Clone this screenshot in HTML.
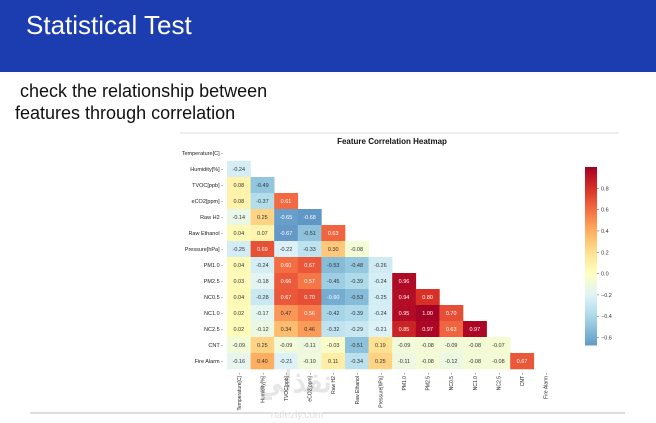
<!DOCTYPE html>
<html><head><meta charset="utf-8"><style>
html,body{margin:0;padding:0;background:#fff;width:656px;height:423px;overflow:hidden;font-family:"Liberation Sans",sans-serif}
#hdr{position:absolute;left:0;top:0;width:656px;height:72px;background:#1c3db0}
#ttl{position:absolute;left:26px;top:10px;color:#fff;font-size:26px}
.bt{position:absolute;color:#111;font-size:18px;white-space:nowrap}
</style></head><body>
<div id="hdr"><div id="ttl">Statistical Test</div></div>
<div class="bt" style="left:20px;top:81px">check the relationship between</div>
<div class="bt" style="left:15px;top:103px">features through correlation</div>
<svg id="chart" width="656" height="423" style="position:absolute;left:0;top:0">
<line x1="180" y1="133" x2="619" y2="133" stroke="#ddd" stroke-width="1"/>
<line x1="30" y1="413" x2="625" y2="413" stroke="#bbb" stroke-width="1"/>
<text x="392" y="144" font-size="8" font-weight="bold" text-anchor="middle" fill="#111">Feature Correlation Heatmap</text>
<text x="295" y="392" font-size="30" font-weight="bold" text-anchor="middle" fill="#e6e6e6">نفذلي</text>
<text x="297" y="418" font-size="10" text-anchor="middle" fill="#e0e0e0">nafezly.com</text>
</svg>
<script>
const features=["Temperature[C]","Humidity[%]","TVOC[ppb]","eCO2[ppm]","Raw H2","Raw Ethanol","Pressure[hPa]","PM1.0","PM2.5","NC0.5","NC1.0","NC2.5","CNT","Fire Alarm"];
const corrRows=[
[],
[-0.24],
[0.08,-0.49],
[0.08,-0.37,0.61],
[-0.14,0.25,-0.65,-0.68],
[0.04,0.07,-0.67,-0.51,0.63],
[-0.25,0.69,-0.22,-0.33,0.30,-0.08],
[0.04,-0.24,0.60,0.67,-0.53,-0.48,-0.26],
[0.03,-0.18,0.66,0.57,-0.45,-0.39,-0.24,0.96],
[0.04,-0.28,0.67,0.70,-0.60,-0.53,-0.25,0.94,0.80],
[0.02,-0.17,0.47,0.56,-0.42,-0.39,-0.24,0.95,1.00,0.70],
[0.02,-0.12,0.34,0.46,-0.32,-0.29,-0.21,0.85,0.97,0.63,0.97],
[-0.09,0.25,-0.09,-0.11,-0.03,-0.51,0.19,-0.09,-0.08,-0.09,-0.08,-0.07],
[-0.16,0.40,-0.21,-0.10,0.11,-0.34,0.25,-0.11,-0.08,-0.12,-0.08,-0.08,0.67]];
const cbTicks=[0.8,0.6,0.4,0.2,0.0,-0.2,-0.4,-0.6];
const cmin=-1.0,cmax=1.0;
const vmin=-0.67,vmax=1.0;
const NS="http://www.w3.org/2000/svg";
const svg=document.getElementById('chart');
const gx=227,gy=145,cw=23.6,ch=16;
const xS=i=>gx+i*cw, yS=i=>gy+i*ch;
const stops=["#313695","#4575b4","#74add1","#abd9e9","#e0f3f8","#ffffbf","#fee090","#fdae61","#f46d43","#d73027","#a50026"];
function hex(h){return [1,3,5].map(k=>parseInt(h.substr(k,2),16));}
function cmap(v){let t=(v-cmin)/(cmax-cmin);t=Math.max(0,Math.min(1,t));const p=t*10,i=Math.min(9,Math.floor(p)),f=p-i;const a=hex(stops[i]),b=hex(stops[i+1]);const c=a.map((x,k)=>Math.round(x+(b[k]-x)*f));return {s:`rgb(${c})`,l:(0.299*c[0]+0.587*c[1]+0.114*c[2])};}
function mk(tag,attrs){const e=document.createElementNS(NS,tag);for(const k in attrs)e.setAttribute(k,attrs[k]);return e;}
features.forEach((f,i)=>{
  const t=mk('text',{x:gx-4,y:yS(i)+ch/2+2,'font-size':5.5,'text-anchor':'end',fill:'#222'});
  
  
  t.textContent=f+" -";svg.appendChild(t);
  const cx=xS(i)+cw/2,cy=gy+14*ch+4;
  const u=mk('text',{x:cx+2,y:cy,'font-size':5,'text-anchor':'end',fill:'#222',transform:`rotate(-90 ${cx+2} ${cy})`});
  
  
  u.textContent=f+" -";svg.appendChild(u);
});
corrRows.forEach((row,i)=>row.forEach((v,j)=>{
  const c=cmap(v);
  const r=mk('rect',{x:xS(j),y:yS(i),width:cw+0.3,height:ch+0.3,fill:c.s});
  
  
  svg.appendChild(r);
  const t=mk('text',{x:xS(j)+cw/2,y:yS(i)+ch/2+2,'font-size':5.5,'text-anchor':'middle',fill:c.l<170?'#fff':'#333'});
  
  
  t.textContent=v.toFixed(2);svg.appendChild(t);
}));
const cbx=585,cbw=12,cbTop=167,cbBot=345;
const cbY=v=>cbTop+(vmax-v)/(vmax-vmin)*(cbBot-cbTop);
for(let k=0;k<89;k++){
  const y0=cbTop+k*(cbBot-cbTop)/89;
  const v=vmax-(k+0.5)/89*(vmax-vmin);
  const r=mk('rect',{x:cbx,y:y0,width:cbw,height:(cbBot-cbTop)/89+0.5,fill:cmap(v).s});
  
  
  svg.appendChild(r);
}
cbTicks.forEach(v=>{
  const y=cbY(v);
  const l=mk('line',{x1:cbx+cbw,x2:cbx+cbw+2,y1:y,y2:y,stroke:'#444','stroke-width':0.5});
  
  
  svg.appendChild(l);
  const t=mk('text',{x:cbx+cbw+4,y:y+2,'font-size':5.5,fill:'#333'});
  
  
  t.textContent=(v<0?'\u2212':'')+Math.abs(v).toFixed(1);svg.appendChild(t);
});
</script>
</body></html>
